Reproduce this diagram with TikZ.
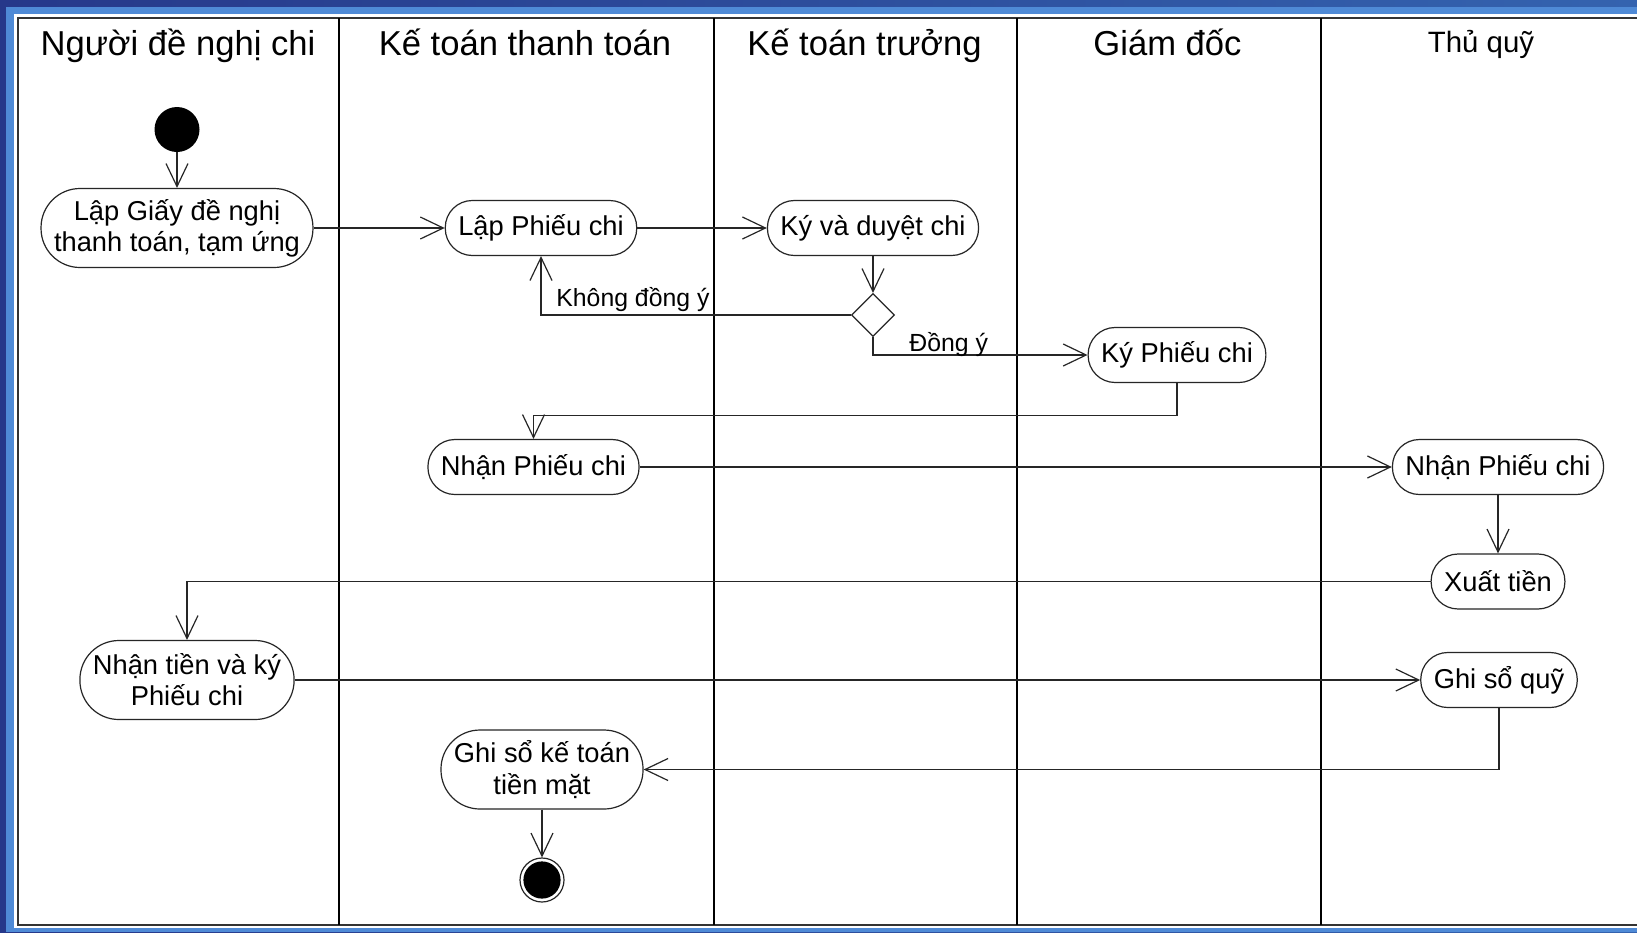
\documentclass[tikz,border=0pt]{standalone}
\usepackage{fontspec}
\setmainfont{Liberation Sans}
\usetikzlibrary{arrows.meta,shapes.geometric,positioning}

\definecolor{bandDark}{HTML}{26388A}
\definecolor{bandMid}{HTML}{3463AF}
\definecolor{bandLight}{HTML}{4F8AD6}

\newcommand{\actfont}{\fontsize{13.65pt}{15.6pt}\selectfont}
\newcommand{\lanefont}{\fontsize{17.3pt}{20pt}\selectfont}
\newcommand{\quyfont}{\fontsize{14.7pt}{17pt}\selectfont}
\newcommand{\guardfont}{\fontsize{12.4pt}{14pt}\selectfont}

\tikzset{
  act/.style={draw=black!85, line width=.6pt, fill=white, rounded corners=13.5pt,
    minimum height=27.5pt, inner xsep=6.5pt, inner ysep=1pt, font=\actfont},
  acttwo/.style={act, rounded corners=19.5pt, minimum height=39.5pt, align=center},
  decision/.style={diamond, draw=black!85, line width=.6pt, fill=white,
    minimum width=21.5pt, minimum height=21.5pt, inner sep=0pt},
  startnode/.style={circle, fill=black, minimum size=22.5pt, inner sep=0pt},
  endnode/.style={circle, draw=black!85, line width=.6pt, minimum size=22pt, inner sep=0pt,
    path picture={\fill[black] (path picture bounding box.center) circle (9.3pt);}},
  flow/.style={draw=black!85, line width=.6pt, -{Straight Barb[length=11.5pt,width=11pt]}},
  lane/.style={draw=black, line width=1pt},
  lanetitle/.style={font=\lanefont, anchor=base, inner sep=0pt},
  guard/.style={font=\guardfont, anchor=base west, inner sep=0pt},
}

\begin{document}
\begin{tikzpicture}[x=.5pt, y=-.5pt]
	\useasboundingbox (0,0) rectangle (1637,932);
	% frame
	\fill[left color=bandDark, right color=bandMid] (0,0) rectangle (1637,932);
	\fill[bandLight] (6,7) rectangle (1637,932);
	\fill[white] (14,14) rectangle (1637,927.5);
	\draw[line width=1pt, black!80] (1637,18) -- (18,18) -- (18,925) -- (1637,925);
	\foreach \x in {339,714,1017,1321}
		\draw[lane] (\x,18) -- (\x,925);

	% lanes
	\node[lanetitle] (lane1) at (178,55) {Người đề nghị chi};
	\node[lanetitle] (lane2) at (525,55) {Kế toán thanh toán};
	\node[lanetitle] (lane3) at (864.5,55) {Kế toán trưởng};
	\node[lanetitle] (lane4) at (1167.5,55) {Giám đốc};
	\node[lanetitle, font=\quyfont] (lane5) at (1481,52) {Thủ quỹ};

	% activities
	\node[startnode] (start) at (177,129.5) {};
	\node[acttwo] (lapgiay) at (177,228) {Lập Giấy đề nghị\\thanh toán, tạm ứng};
	\node[act] (lappc) at (541,228) {Lập Phiếu chi};
	\node[act] (kyduyet) at (873,228) {Ký và duyệt chi};
	\node[decision] (dia) at (873,315) {};
	\node[act] (kypc) at (1177,355) {Ký Phiếu chi};
	\node[act] (nhanpc) at (533.5,467) {Nhận Phiếu chi};
	\node[act] (tqnhanpc) at (1498,467) {Nhận Phiếu chi};
	\node[act] (xuat) at (1498,581.5) {Xuất tiền};
	\node[acttwo] (nhantien) at (187,680) {Nhận tiền và ký\\Phiếu chi};
	\node[act] (ghiquy) at (1499,680) {Ghi sổ quỹ};
	\node[acttwo] (ghikt) at (542,769.5) {Ghi sổ kế toán\\tiền mặt};
	\node[endnode] (stop) at (542,880) {};
	\coordinate (turn) at (1177,415.5);

	% flows
	\draw[flow] (start) -- (lapgiay);
	\draw[flow] (lapgiay) -- (lappc);
	\draw[flow] (lappc) -- (kyduyet);
	\draw[flow] (kyduyet) -- (dia);
	\draw[flow] (dia.west) -| (lappc.south);
	\draw[flow] (dia.south) |- (kypc.west);
	\draw[flow] (kypc.south) -- (turn) -| (nhanpc.north);
	\draw[flow] (nhanpc) -- (tqnhanpc);
	\draw[flow] (tqnhanpc) -- (xuat);
	\draw[flow] (xuat.west) -| (nhantien.north);
	\draw[flow] (nhantien) -- (ghiquy);
	\draw[flow] (ghiquy.south) |- (ghikt.east);
	\draw[flow] (ghikt) -- (stop);

	\node[guard] (khong) at (556,306) {Không đồng ý};
	\node[guard] (dongy) at (909,351) {Đồng ý};
\end{tikzpicture}
\end{document}
